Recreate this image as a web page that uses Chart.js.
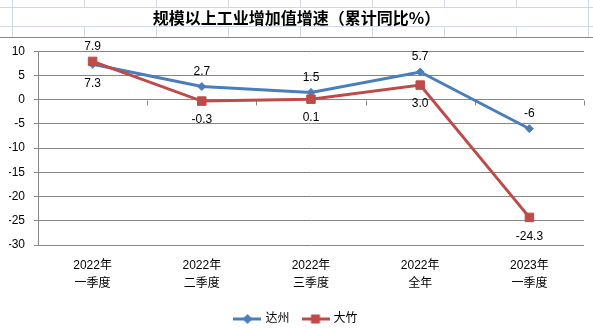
<!DOCTYPE html>
<html>
<head>
<meta charset="utf-8">
<script src="https://cdn.jsdelivr.net/npm/chart.js@4.4.0/dist/chart.umd.min.js"></script>
<style>
html, body { margin: 0; padding: 0; background: #fff; overflow: hidden; }
#wrap { width: 593px; height: 328px; }
</style>
</head>
<body>
<div id="wrap"><canvas id="growthChart" width="593" height="328"></canvas></div>
<script>
// data
const periods = [['2022年', '一季度'], ['2022年', '二季度'], ['2022年', '三季度'], ['2022年', '全年'], ['2023年', '一季度']];
const dazhou = [7.3, 2.7, 1.5, 5.7, -6];
const dazhu = [7.9, -0.3, 0.1, 3.0, -24.3];
const dazhouText = ['7.3', '2.7', '1.5', '5.7', '-6'];
const dazhuText = ['7.9', '-0.3', '0.1', '3.0', '-24.3'];
const yTicks = [10, 5, 0, -5, -10, -15, -20, -25, -30];

const BLUE = '#4A7EBB';
const RED = '#BE4B48';
const GRID = '#868686';
const FONT = "'Liberation Sans', 'Noto Sans CJK SC', sans-serif";

// legend sample: short line with the marker in the middle (like Excel)
function legendSample(color, shape){
    const c = document.createElement('canvas');
    c.width = 28; c.height = 14;
    const g = c.getContext('2d');
    g.strokeStyle = color; g.lineWidth = 3;
    g.beginPath(); g.moveTo(0, 7); g.lineTo(28, 7); g.stroke();
    g.fillStyle = color;
    g.beginPath();
    if (shape === 'diamond') {
        g.moveTo(14, 2); g.lineTo(19, 7); g.lineTo(14, 12); g.lineTo(9, 7);
    } else {
        g.rect(9.5, 2.5, 9, 9);
    }
    g.closePath(); g.fill();
    return c;
}

// spreadsheet cells behind the chart + chart frame
const sheetBackground = {
    id: 'sheetBackground',
    beforeDraw(chart){
        const ctx = chart.ctx;
        ctx.save();
        ctx.fillStyle = '#fff';
        ctx.fillRect(0, 0, chart.width, chart.height);
        ctx.strokeStyle = '#D0D7E5';
        ctx.lineWidth = 1;
        ctx.beginPath();
        [7.5, 26.5].forEach(y => { ctx.moveTo(0, y); ctx.lineTo(chart.width, y); });
        [12.5, 84.5, 156.5, 228.5, 300.5, 372.5, 444.5, 516.5, 588.5].forEach((x, i, arr) => {
            const full = i === 0 || i === arr.length - 1;
            ctx.moveTo(x, 0); ctx.lineTo(x, full ? 37 : 7);
            if (!full) { ctx.moveTo(x, 26); ctx.lineTo(x, 37); }
        });
        ctx.stroke();
        ctx.strokeStyle = GRID;
        ctx.beginPath(); ctx.moveTo(0, 37.5); ctx.lineTo(chart.width, 37.5); ctx.stroke();
        ctx.restore();
    },
    afterLayout(chart){
        // Excel legend sits lower than Chart.js puts it
        chart.legend.top += 7;
        chart.legend.bottom += 7;
    }
};

// category axis crosses at 0: tick marks hang below the zero line
const zeroAxisTicks = {
    id: 'zeroAxisTicks',
    beforeDatasetsDraw(chart){
        const x = chart.scales.x, y = chart.scales.y;
        const y0 = Math.round(y.getPixelForValue(0)) + 0.5;
        const step = (x.right - x.left) / periods.length;
        const ctx = chart.ctx;
        ctx.save();
        ctx.strokeStyle = GRID; ctx.lineWidth = 1;
        ctx.beginPath();
        for (let i = 0; i <= periods.length; i++) {
            const px = Math.round(x.left + i * step) + 0.5;
            ctx.moveTo(px, y0); ctx.lineTo(px, y0 + 5);
        }
        ctx.stroke();
        ctx.restore();
    }
};

// value labels: higher series of a pair above its point, lower one below
const valueLabels = {
    id: 'valueLabels',
    afterDatasetsDraw(chart){
        const ctx = chart.ctx;
        const series = [dazhou, dazhu];
        const texts = [dazhouText, dazhuText];
        ctx.save();
        ctx.font = '12px ' + FONT;
        ctx.fillStyle = '#000';
        ctx.textAlign = 'center';
        ctx.textBaseline = 'middle';
        series.forEach((vals, d) => {
            const other = series[1 - d];
            chart.getDatasetMeta(d).data.forEach((pt, i) => {
                const above = vals[i] >= other[i];
                ctx.fillText(texts[d][i], pt.x, above ? pt.y - 15 : pt.y + 19);
            });
        });
        ctx.restore();
    }
};

new Chart(document.getElementById('growthChart'), {
    type: 'line',
    data: {
        labels: periods.map(p => p.join(' ')),
        datasets: [
            {
                label: '达州',
                data: dazhou,
                borderColor: BLUE,
                backgroundColor: BLUE,
                borderWidth: 3,
                pointStyle: 'rectRot',
                pointRadius: 4,
                pointBorderWidth: 1,
                order: 1,
            },
            {
                label: '大竹',
                data: dazhu,
                borderColor: RED,
                backgroundColor: RED,
                borderWidth: 3,
                pointStyle: 'rect',
                pointRadius: 6,
                pointBorderWidth: 1,
                order: 0,
            }
        ]
    },
    options: {
        responsive: false,
        animation: false,
        devicePixelRatio: 1,
        layout: { padding: { left: 9, right: 9, top: 0, bottom: 0 } },
        scales: {
            x: {
                offset: true,
                grid: { display: false, drawTicks: false, offset: true },
                border: { display: false },
                ticks: {
                    autoSkip: false,
                    maxRotation: 0,
                    padding: 12,
                    color: '#000',
                    font: { family: FONT, size: 12, lineHeight: 1.5 },
                    callback: (v, i) => periods[i],
                },
                afterFit: s => { s.height = 47; },
            },
            y: {
                min: yTicks[yTicks.length - 1],
                max: yTicks[0],
                afterBuildTicks: s => { s.ticks = yTicks.map(v => ({ value: v })); },
                grid: { color: GRID, lineWidth: 1, drawTicks: true, tickLength: 4 },
                border: { display: true, color: GRID, width: 1 },
                ticks: {
                    padding: 9,
                    color: '#000',
                    font: { family: FONT, size: 12 },
                },
                afterFit: s => { s.width = 29; },
            }
        },
        plugins: {
            title: {
                display: true,
                text: '规模以上工业增加值增速（累计同比%）',
                color: '#000',
                font: { family: "'Noto Sans CJK SC', sans-serif", size: 16, weight: 'bold', lineHeight: 1.2 },
                padding: { top: 8, bottom: 24 },
            },
            legend: {
                position: 'bottom',
                labels: {
                    usePointStyle: true,
                    pointStyleWidth: 24,
                    padding: 14,
                    color: '#000',
                    font: { family: FONT, size: 12 },
                    generateLabels: chart => chart.data.datasets.map((ds, i) => ({
                        text: ds.label,
                        datasetIndex: i,
                        pointStyle: legendSample(ds.borderColor, i === 0 ? 'diamond' : 'square'),
                        fillStyle: ds.borderColor,
                        strokeStyle: ds.borderColor,
                        lineWidth: 0,
                        fontColor: '#000',
                    })),
                },
            },
            tooltip: { enabled: false },
        }
    },
    plugins: [sheetBackground, zeroAxisTicks, valueLabels]
});
</script>
</body>
</html>
